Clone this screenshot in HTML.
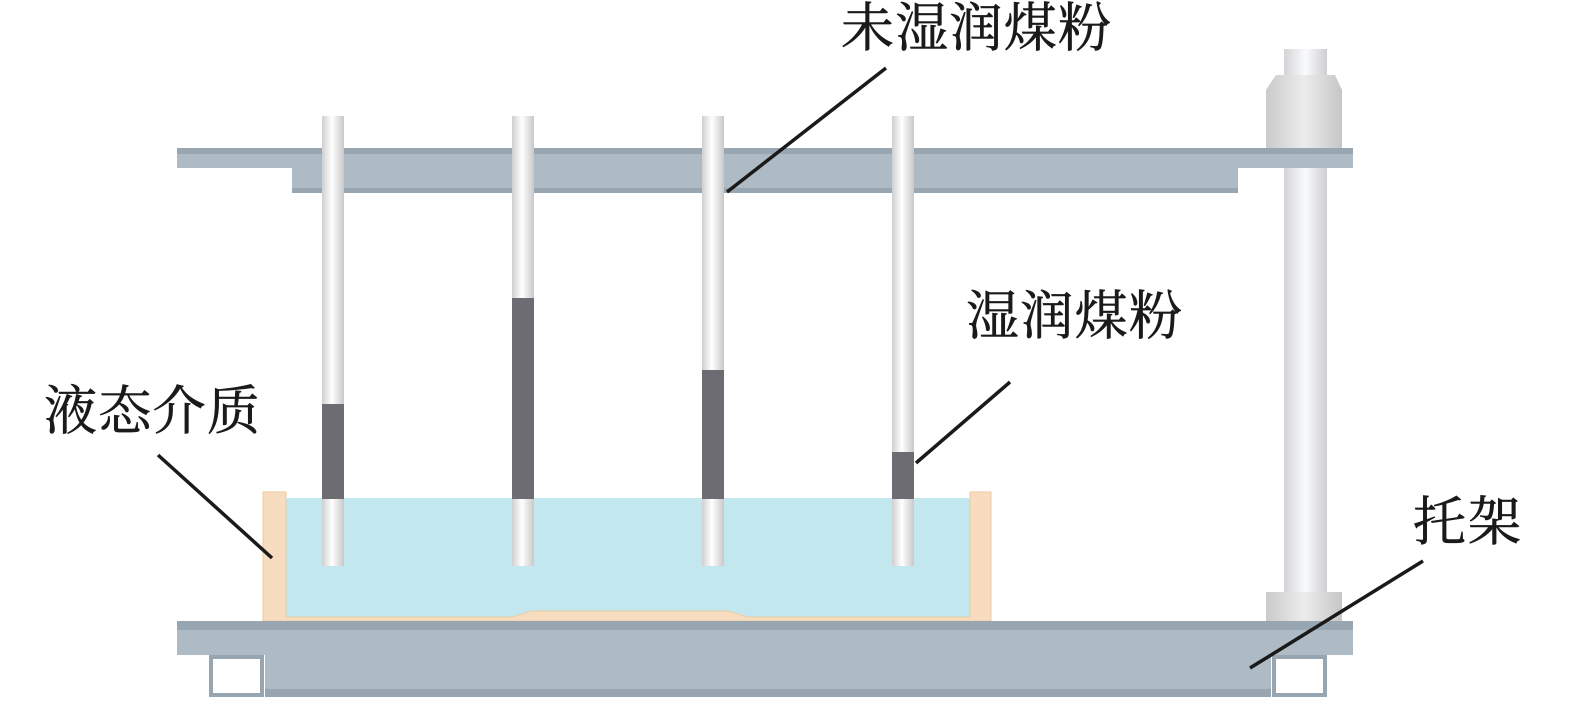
<!DOCTYPE html>
<html><head><meta charset="utf-8"><style>body{margin:0;background:#fff}svg{display:block}</style></head><body>
<svg width="1575" height="712" viewBox="0 0 1575 712" xmlns="http://www.w3.org/2000/svg">
<defs>
<linearGradient id="rod" x1="0" x2="1" y1="0" y2="0">
<stop offset="0" stop-color="#cfcfd1"/><stop offset="0.45" stop-color="#ffffff"/><stop offset="1" stop-color="#c8c8ca"/></linearGradient>
<linearGradient id="col" x1="0" x2="1"><stop offset="0" stop-color="#cacaca"/><stop offset="0.5" stop-color="#ececec"/><stop offset="1" stop-color="#c6c6c6"/></linearGradient>
<linearGradient id="shaft" x1="0" x2="1"><stop offset="0" stop-color="#d4d4d6"/><stop offset="0.5" stop-color="#fafbfd"/><stop offset="1" stop-color="#cfcfd1"/></linearGradient>
</defs>
<rect x="1284" y="49" width="43" height="26" fill="url(#shaft)"/>
<polygon points="1276,75 1335,75 1342,90 1266,90" fill="url(#col)"/>
<rect x="1266" y="90" width="76" height="58" fill="url(#col)"/>
<rect x="1284" y="168" width="43" height="424" fill="url(#shaft)"/>
<rect x="1266" y="592" width="76" height="29" fill="url(#col)"/>
<rect x="177" y="148" width="1176" height="20" fill="#aebbc4"/>
<rect x="177" y="148" width="1176" height="6" fill="#98a6b2"/>
<rect x="292" y="168" width="946" height="25" fill="#aebbc4"/>
<rect x="292" y="188" width="946" height="5" fill="#98a6b2"/>
<polygon points="263,492 286,492 286,499 970,499 970,492 991,492 991,621 263,621" fill="#f8dcc0" stroke="#ecc99e" stroke-width="1"/>
<polygon points="286,499 970,499 970,617 748,617 728,611 532,611 512,617 286,617" fill="#c3e7ee" stroke="#e6cfa6" stroke-width="1"/>
<rect x="286" y="498" width="684" height="2" fill="#c3e7ee"/>
<g>
<rect x="322" y="116" width="22" height="450" fill="url(#rod)"/>
<rect x="322" y="404" width="22" height="95" fill="#6d6c72"/>
<rect x="512" y="116" width="22" height="450" fill="url(#rod)"/>
<rect x="512" y="298" width="22" height="201" fill="#6d6c72"/>
<rect x="702" y="116" width="22" height="450" fill="url(#rod)"/>
<rect x="702" y="370" width="22" height="129" fill="#6d6c72"/>
<rect x="892" y="116" width="22" height="450" fill="url(#rod)"/>
<rect x="892" y="452" width="22" height="47" fill="#6d6c72"/>
</g>
<rect x="177" y="621" width="1176" height="34" fill="#aebbc4"/>
<rect x="177" y="621" width="1176" height="9" fill="#98a6b2"/>
<rect x="265" y="655" width="1006" height="42" fill="#aebbc4"/>
<rect x="265" y="689" width="1006" height="8" fill="#98a6b2"/>
<rect x="211" y="657" width="51" height="38" fill="#fff" stroke="#98a6b2" stroke-width="4"/>
<rect x="1274" y="657" width="51" height="38" fill="#fff" stroke="#98a6b2" stroke-width="4"/>
<g stroke="#1a1a1a" stroke-width="3.5">
<line x1="886" y1="68" x2="727" y2="192"/>
<line x1="1010" y1="382" x2="916" y2="463"/>
<line x1="158" y1="455" x2="272" y2="558"/>
<line x1="1423" y1="561" x2="1250" y2="668"/>
</g>
<g font-family="'Liberation Serif','Noto Serif CJK SC',serif" font-size="53" fill="#1a1a1a" stroke="#1a1a1a" stroke-width="0.6">
<text x="841" y="46" textLength="270">未湿润煤粉</text>
<text x="966" y="334" textLength="216">湿润煤粉</text>
<text x="44" y="429" textLength="216">液态介质</text>
<text x="1413" y="540" textLength="108">托架</text>
</g>
</svg>
</body></html>
